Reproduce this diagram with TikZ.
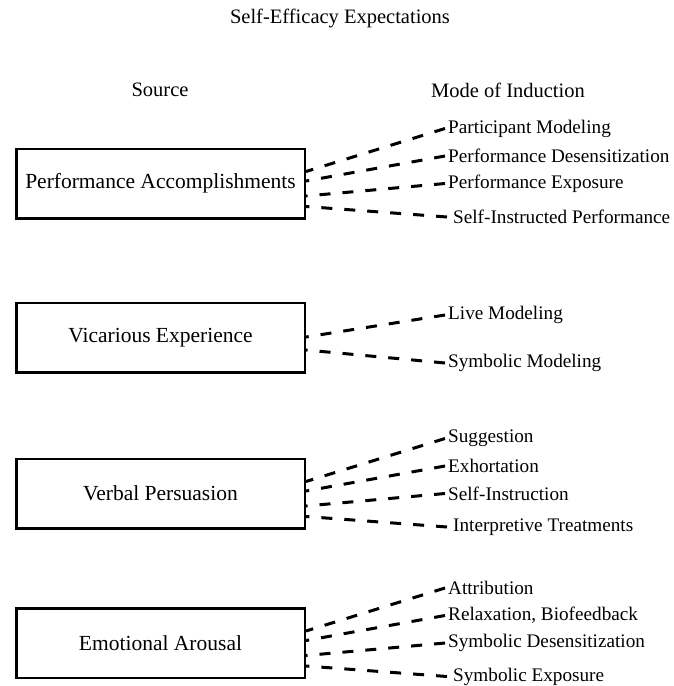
\documentclass[tikz,border=0pt]{standalone}
\usepackage{fontspec}
\setmainfont{Liberation Serif}
\begin{document}
\begin{tikzpicture}[x=1pt,y=-1pt,
  srcbox/.style={draw, line width=2.5pt, minimum width=288.5pt, minimum height=69.5pt, inner sep=0pt, font=\fontsize{21.5}{24}\selectfont},
  head/.style={font=\fontsize{20.5}{24}\selectfont, inner sep=0pt},
  modelbl/.style={anchor=west, inner xsep=3pt, inner ysep=0pt, font=\fontsize{19.2}{22}\selectfont},
  link/.style={line width=3pt, dash pattern=on 11pt off 12pt}]
\useasboundingbox (0,0) rectangle (673,686);
\node[head] (title) at (340,18) {Self-Efficacy Expectations};
\node[head] (src) at (160,90) {Source};
\node[head] (mode) at (508,90) {Mode of Induction};

% group 1
\node[srcbox] (b1) at (160.5,183.5) {Performance Accomplishments};
\node[modelbl] (m11) at (445,128.5) {Participant Modeling};
\node[modelbl] (m12) at (445,156) {Performance Desensitization};
\node[modelbl] (m13) at (445,183.5) {Performance Exposure};
\node[modelbl, inner xsep=6pt] (m14) at (447,217) {Self-Instructed Performance};
\draw[link] (m11.west) -- ([yshift=12pt]b1.east);
\draw[link] (m12.west) -- ([yshift=2.5pt]b1.east);
\draw[link] (m13.west) -- ([yshift=-12.5pt]b1.east);
\draw[link] (m14.west) -- ([yshift=-23pt]b1.east);

% group 2
\node[srcbox] (b2) at (160.5,337.5) {Vicarious Experience};
\node[modelbl] (m21) at (445,315) {Live Modeling};
\node[modelbl] (m22) at (445,363) {Symbolic Modeling};
\draw[link] (m21.west) -- ([yshift=0.5pt]b2.east);
\draw[link] (m22.west) -- ([yshift=-12.5pt]b2.east);

% group 3
\node[srcbox] (b3) at (160.5,493.5) {Verbal Persuasion};
\node[modelbl] (m31) at (445,438.5) {Suggestion};
\node[modelbl] (m32) at (445,466) {Exhortation};
\node[modelbl] (m33) at (445,493.5) {Self-Instruction};
\node[modelbl, inner xsep=6pt] (m34) at (447,527) {Interpretive Treatments};
\draw[link] (m31.west) -- ([yshift=12pt]b3.east);
\draw[link] (m32.west) -- ([yshift=2.5pt]b3.east);
\draw[link] (m33.west) -- ([yshift=-12.5pt]b3.east);
\draw[link] (m34.west) -- ([yshift=-23pt]b3.east);

% group 4
\node[srcbox] (b4) at (160.5,643) {Emotional Arousal};
\node[modelbl] (m41) at (445,588) {Attribution};
\node[modelbl] (m42) at (445,615.5) {Relaxation, Biofeedback};
\node[modelbl] (m43) at (445,643) {Symbolic Desensitization};
\node[modelbl, inner xsep=6pt] (m44) at (447,676.5) {Symbolic Exposure};
\draw[link] (m41.west) -- ([yshift=12pt]b4.east);
\draw[link] (m42.west) -- ([yshift=2.5pt]b4.east);
\draw[link] (m43.west) -- ([yshift=-12.5pt]b4.east);
\draw[link] (m44.west) -- ([yshift=-23pt]b4.east);
\end{tikzpicture}
\end{document}
